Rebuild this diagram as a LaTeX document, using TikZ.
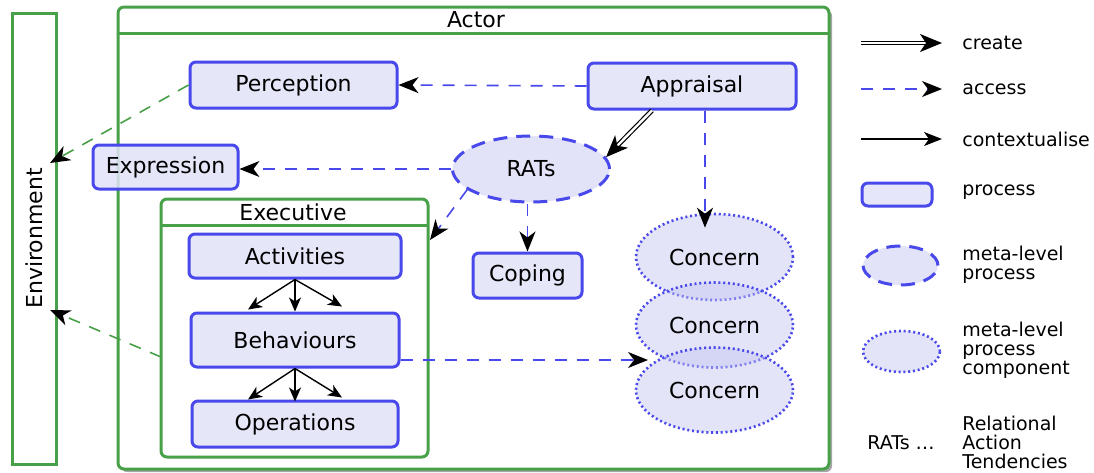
\documentclass[tikz,border=0pt]{standalone}
\usepackage{fontspec}
\setmainfont{DejaVu Sans}
\usetikzlibrary{positioning, calc, arrows.meta, shapes.geometric}

\definecolor{procblue}{RGB}{72,72,235}
\definecolor{procfill}{RGB}{226,226,249}
\definecolor{compfill}{RGB}{196,196,242}
\definecolor{actgreen}{RGB}{72,160,72}

\tikzset{
  process/.style={draw=procblue, fill=procfill, fill opacity=0.85, text opacity=1, line width=1.5pt, rounded corners=3pt, inner sep=0pt},
  metaproc/.style={ellipse, draw=procblue, fill=procfill, line width=1.5pt, dash pattern=on 7pt off 4.5pt, inner sep=0pt},
  metacomp/.style={ellipse, draw=procblue, fill=compfill, fill opacity=0.45, text opacity=1, line width=1.3pt, dash pattern=on 1pt off 1.4pt, inner sep=0pt},
  group/.style={draw=actgreen, line width=1.5pt, rounded corners=3pt, fill=white},
  access/.style={draw=procblue, line width=0.8pt, dash pattern=on 6pt off 5pt, -{Stealth[length=10pt, width=8pt, inset=3pt, black]}},
  envlink/.style={draw=actgreen, line width=0.8pt, dash pattern=on 6pt off 5pt, -{Stealth[length=10pt, width=8pt, inset=3pt, black]}},
  create/.style={double, line width=0.6pt, double distance=1.2pt, -{Stealth[length=11pt, width=9pt, inset=3pt]}},
  context/.style={line width=0.7pt, -{Stealth[length=7pt, width=6pt, inset=2pt]}},
  legend/.style={anchor=west, align=left, inner sep=0pt, font=\fontsize{9.5}{9.5}\selectfont}
}

\begin{document}
\begin{tikzpicture}[x=0.5pt, y=-0.5pt, font=\fontsize{11}{13}\selectfont]
  \useasboundingbox (0,0) rectangle (1094,472);

  % environment and actor
  \draw[actgreen, line width=1.5pt] (12,13) rectangle (56,464);
  \node[rotate=90] (env) at (34,238.5) {Environment};
  \fill[black!35, rounded corners=3pt] (121,10) rectangle (832,472);
  \draw[group] (118,7) rectangle (829,469);
  \draw[actgreen, line width=1.5pt] (118,33) -- (829,33);
  \node (actor) at (476,20) {Actor};

  % executive
  \draw[group] (161,199) rectangle (428,457);
  \draw[actgreen, line width=1.5pt] (161,225) -- (428,225);
  \node (exec) at (293,212) {Executive};

  % processes
  \node[process, minimum width=103.5pt, minimum height=23pt] (perc) at (293.5,85) {Perception};
  \node[process, minimum width=104pt, minimum height=23pt] (app) at (692,86) {Appraisal};
  \node[process, minimum width=72.5pt, minimum height=22pt] (expr) at (165.5,167) {Expression};
  \node[metaproc, minimum width=78.5pt, minimum height=33pt] (rats) at (531,169) {RATs};
  \node[process, minimum width=54.5pt, minimum height=22.5pt] (cop) at (527.5,275.5) {Coping};
  \node[process, minimum width=106pt, minimum height=22pt] (act) at (295,256) {Activities};
  \node[process, minimum width=104pt, minimum height=27pt] (beh) at (295,340) {Behaviours};
  \node[process, minimum width=103pt, minimum height=23pt] (ops) at (295,424) {Operations};
  \node[metacomp, minimum width=78.5pt, minimum height=43pt] (conc1) at (714.5,257) {Concern};
  \node[metacomp, minimum width=78.5pt, minimum height=42.5pt] (conc2) at (714.5,325) {Concern};
  \node[metacomp, minimum width=78.5pt, minimum height=42.5pt] (conc3) at (714.5,390) {Concern};

  % free ends
  \coordinate (envin1) at (50,163);
  \coordinate (envin2) at (50,310);
  \coordinate (execin) at (430,240);
  \coordinate (concin) at (648,360);

  % links
  \draw[access] (app.west) -- (perc.east);
  \draw[access] (rats.west) -- (rats.west -| expr.east);
  \draw[create] ([xshift=-20pt]app.south) -- (rats.9);
  \draw[access] ([xshift=6.5pt]app.south) -- ([xshift=-4.75pt, yshift=-7.5pt]conc1.north);
  \draw[access] (cop.north |- rats.south) -- (cop.north);
  \draw[access] (rats.198) -- (execin);
  \draw[access] ([yshift=-10pt]beh.east) -- (concin);
  \draw[envlink] (perc.west) -- (envin1);
  \draw[envlink] (161,357) -- (envin2);
  \foreach \dx/\dy in {-23.5/1, 0/0, 23.5/2.5}
    \draw[context] (act.south) -- ([xshift=\dx pt, yshift=\dy pt]beh.north);
  \foreach \dx/\dy in {-23.5/0, 0/-1, 23.5/1}
    \draw[context] (beh.south) -- ([xshift=\dx pt, yshift=\dy pt]ops.north);

  % legend
  \coordinate (lgA) at (861,43);  \coordinate (lgB) at (942,43);
  \coordinate (lgC) at (861,89);  \coordinate (lgD) at (942,89);
  \coordinate (lgE) at (861,139); \coordinate (lgF) at (942,139);
  \draw[create] (lgA) -- (lgB);
  \draw[access] (lgC) -- (lgD);
  \draw[context, -{Stealth[length=9pt, width=7pt, inset=2.5pt]}] (lgE) -- (lgF);
  \node[legend] (lgcreate) at (962,43) {create};
  \node[legend] (lgaccess) at (962,89) {access};
  \node[legend] (lgcontext) at (962,139) {contextualise};
  \node[process, minimum width=35pt, minimum height=11.5pt] (lgproc) at (897,194.5) {};
  \node[legend] (lgproctext) at (962,192) {process};
  \node[metaproc, minimum width=37.5pt, minimum height=19.5pt] (lgmeta) at (900.5,265.5) {};
  \node[legend] (lgmetatext) at (962,265) {meta-level\\process};
  \node[metacomp, minimum width=38.5pt, minimum height=20.5pt] (lgcomp) at (901.5,351.5) {};
  \node[legend] (lgcomptext) at (962,350) {meta-level\\process\\component};
  \node[legend, anchor=center] (lgrats) at (901,443) {RATs \ldots};
  \node[legend] (lgratstext) at (962,442) {Relational\\Action\\Tendencies};
\end{tikzpicture}
\end{document}
